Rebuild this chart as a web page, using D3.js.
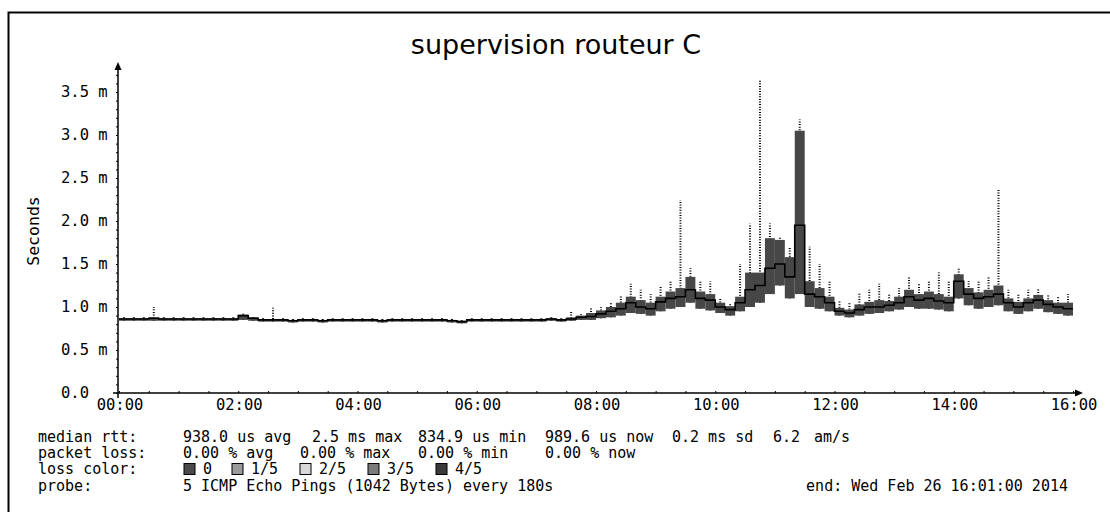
<!DOCTYPE html>
<html><head><meta charset="utf-8">
<script src="https://cdn.jsdelivr.net/npm/d3@7"></script>
<style>
body{margin:0;background:#fff;}
svg text{font-family:"DejaVu Sans Mono",monospace;fill:#000;}
</style></head><body>
<svg id="c" width="1110" height="512"></svg>
<script>
// ---- data (10-minute steps from 00:00 to 16:00, values in ms) ----
const stepMinutes = 10;
const pingMedian = [
 0.86,0.86,0.86,0.87,0.86,0.86,0.86,0.86,0.86,0.86,0.86,0.86,
 0.90,0.87,0.85,0.85,0.85,0.84,0.85,0.85,0.84,0.85,0.85,0.85,
 0.85,0.85,0.84,0.85,0.85,0.85,0.85,0.85,0.85,0.84,0.83,0.85,
 0.85,0.85,0.85,0.85,0.85,0.85,0.85,0.86,0.85,0.86,0.88,0.89,
 0.92,0.95,0.98,1.05,1.00,0.98,1.06,1.10,1.12,1.20,1.10,1.08,
 1.00,0.97,1.05,1.20,1.25,1.45,1.50,1.35,1.95,1.15,1.12,1.05,
 0.95,0.93,0.97,1.00,1.00,1.02,1.05,1.12,1.08,1.10,1.07,1.05,
 1.30,1.15,1.10,1.12,1.15,1.05,1.00,1.05,1.08,1.03,1.00,0.98];
const pingMax = [
 0.88,0.88,0.89,1.00,0.88,0.88,0.88,0.88,0.88,0.88,0.88,0.88,
 0.93,0.89,0.87,0.99,0.87,0.86,0.87,0.87,0.86,0.87,0.87,0.87,
 0.87,0.87,0.86,0.87,0.87,0.87,0.87,0.87,0.87,0.86,0.85,0.87,
 0.87,0.87,0.87,0.87,0.87,0.87,0.87,0.88,0.87,0.96,0.92,1.00,
 1.00,1.05,1.13,1.27,1.20,1.15,1.25,1.30,2.24,1.45,1.30,1.30,
 1.10,1.05,1.50,1.97,3.64,1.97,1.82,1.70,3.18,1.70,1.50,1.30,
 1.08,1.05,1.16,1.20,1.27,1.15,1.22,1.35,1.28,1.30,1.40,1.30,
 1.45,1.30,1.30,1.35,2.38,1.20,1.15,1.20,1.22,1.15,1.12,1.15];
const pingQ3 = [
 0.87,0.87,0.87,0.88,0.87,0.87,0.87,0.87,0.87,0.87,0.87,0.87,
 0.91,0.88,0.86,0.86,0.86,0.85,0.86,0.86,0.85,0.86,0.86,0.86,
 0.86,0.86,0.85,0.86,0.86,0.86,0.86,0.86,0.86,0.85,0.84,0.86,
 0.86,0.86,0.86,0.86,0.86,0.86,0.86,0.87,0.86,0.88,0.90,0.93,
 0.96,1.00,1.05,1.12,1.08,1.05,1.12,1.18,1.22,1.35,1.18,1.15,
 1.05,1.01,1.12,1.40,1.40,1.80,1.78,1.58,3.05,1.30,1.22,1.12,
 0.99,0.97,1.03,1.06,1.08,1.07,1.12,1.20,1.15,1.18,1.15,1.12,
 1.38,1.22,1.17,1.20,1.25,1.10,1.06,1.10,1.14,1.08,1.05,1.05];
const pingMin = [
 0.84,0.84,0.84,0.84,0.84,0.84,0.84,0.84,0.84,0.84,0.84,0.84,
 0.85,0.84,0.83,0.83,0.83,0.82,0.83,0.83,0.82,0.83,0.83,0.83,
 0.83,0.83,0.82,0.83,0.83,0.83,0.83,0.83,0.83,0.82,0.81,0.83,
 0.83,0.83,0.83,0.83,0.83,0.83,0.83,0.84,0.83,0.84,0.85,0.85,
 0.87,0.88,0.90,0.93,0.92,0.90,0.95,0.98,1.00,1.05,0.98,0.96,
 0.93,0.90,0.95,1.00,1.05,1.15,1.25,1.10,1.15,1.00,0.98,0.95,
 0.90,0.88,0.90,0.92,0.93,0.95,0.97,1.00,0.98,0.98,0.97,0.95,
 1.10,1.02,0.98,1.00,1.02,0.95,0.92,0.95,0.98,0.94,0.92,0.90];
const yTickValues = [0,0.5,1.0,1.5,2.0,2.5,3.0,3.5];
const yTickLabels = ["0.0","0.5 m","1.0 m","1.5 m","2.0 m","2.5 m","3.0 m","3.5 m"];
const xTickHours = [0,2,4,6,8,10,12,14,16];
const xTickLabels = ["00:00","02:00","04:00","06:00","08:00","10:00","12:00","14:00","16:00"];
const legendRtt = ["median rtt:","938.0 us avg","2.5 ms max","834.9 us min","989.6 us now","0.2 ms sd","6.2","am/s"];
const legendLoss = ["packet loss:","0.00 % avg","0.00 % max","0.00 % min","0.00 % now"];
const lossColorLabels = ["0","1/5","2/5","3/5","4/5"];
const lossColorFills = ["#4a4a4a","#9a9a9a","#d8d8d8","#7a7a7a","#3a3a3a"];
const probeText = ["probe:","5 ICMP Echo Pings (1042 Bytes) every 180s","end: Wed Feb 26 16:01:00 2014"];

// ---- drawing ----
const svg = d3.select("#c");
const x = d3.scaleLinear().domain([0,16]).range([119,1073]);
const y = d3.scaleLinear().domain([0,3.5]).range([393,92]);

// frame
svg.append("path").attr("d","M8.5,512V12.5H1110").attr("fill","none").attr("stroke","#000").attr("stroke-width",2);

// title
svg.append("text").attr("x",556).attr("y",54).attr("text-anchor","middle")
  .style("font-family","'DejaVu Sans',sans-serif").style("font-size","27px").text("supervision routeur C");
// y title
svg.append("text").attr("transform","translate(39,231) rotate(-90)").attr("text-anchor","middle")
  .style("font-size","16.5px").text("Seconds");

// data marks
const h = stepMinutes/60;
const idx = d3.range(pingMedian.length);
const g = svg.append("g");
// outer smoke (dotted)
g.selectAll("line.smoke").data(idx).join("line").attr("class","smoke")
  .attr("x1",i=>x(i*h+h/2)).attr("x2",i=>x(i*h+h/2))
  .attr("y1",i=>y(pingMin[i])).attr("y2",i=>y(pingMax[i]))
  .attr("stroke","#000").attr("stroke-width",2).attr("stroke-dasharray","1 1.6");
// dense smoke
g.selectAll("rect.dense").data(idx).join("rect").attr("class","dense")
  .attr("x",i=>x(i*h)).attr("width",i=>x((i+1)*h)-x(i*h))
  .attr("y",i=>y(pingQ3[i])).attr("height",i=>y(pingMin[i])-y(pingQ3[i]))
  .attr("fill","#474747");
// median step line
const medPts = idx.flatMap(i=>[[x(i*h),y(pingMedian[i])],[x((i+1)*h),y(pingMedian[i])]]);
g.append("path").attr("d",d3.line()(medPts)).attr("fill","none").attr("stroke","#000").attr("stroke-width",1.6);

// axes
const ya = svg.append("g").attr("transform","translate(118,0)")
  .call(d3.axisLeft(y).tickValues(d3.range(0,3.71,0.1)).tickSize(2).tickFormat(""));
ya.select(".domain").remove();
ya.selectAll("line").attr("stroke","#000");
const xa = svg.append("g").attr("transform","translate(0,393)")
  .call(d3.axisTop(x).tickValues(d3.range(0,16.01,0.5)).tickSize(2).tickFormat(""));
xa.select(".domain").remove();
xa.selectAll("line").attr("stroke","#000");

svg.append("line").attr("x1",118).attr("x2",118).attr("y1",398).attr("y2",68).attr("stroke","#000").attr("stroke-width",1.5);
svg.append("path").attr("d","M114.5,70L118,62L121.5,70Z").attr("fill","#000");
svg.append("line").attr("x1",113).attr("x2",1076).attr("y1",393).attr("y2",393).attr("stroke","#000").attr("stroke-width",1.5);
svg.append("path").attr("d","M1075,389.5L1083,393L1075,396.5Z").attr("fill","#000");

// y labels
svg.selectAll("text.yl").data(yTickValues).join("text").attr("class","yl")
  .attr("x",61).attr("y",d=>y(d)+5).style("font-size","15.5px").text((d,i)=>yTickLabels[i]);
// x labels
svg.selectAll("text.xl").data(xTickHours).join("text").attr("class","xl")
  .attr("x",d=>x(d)+1).attr("y",410).attr("text-anchor","middle").style("font-size","15.5px")
  .text((d,i)=>xTickLabels[i]);

// legend
const fs = "15px";
const row1X = [38,183,312,418,545,672,773,814];
legendRtt.forEach((t,i)=>svg.append("text").attr("x",row1X[i]).attr("y",442).style("font-size",fs).text(t));
const row2X = [38,183,300,418,545];
legendLoss.forEach((t,i)=>svg.append("text").attr("x",row2X[i]).attr("y",458).style("font-size",fs).text(t));
svg.append("text").attr("x",38).attr("y",474).style("font-size",fs).text("loss color:");
const swX = [184,232,300,368,436];
lossColorLabels.forEach((t,i)=>{
  svg.append("rect").attr("x",swX[i]).attr("y",463.5).attr("width",11).attr("height",11)
    .attr("fill",lossColorFills[i]).attr("stroke","#000").attr("stroke-width",1);
  svg.append("text").attr("x",swX[i]+19).attr("y",474).style("font-size",fs).text(t);
});
svg.append("text").attr("x",38).attr("y",491).style("font-size",fs).text(probeText[0]);
svg.append("text").attr("x",183).attr("y",491).style("font-size",fs).text(probeText[1]);
svg.append("text").attr("x",1068).attr("y",491).attr("text-anchor","end").style("font-size",fs).text(probeText[2]);
</script>
</body></html>
